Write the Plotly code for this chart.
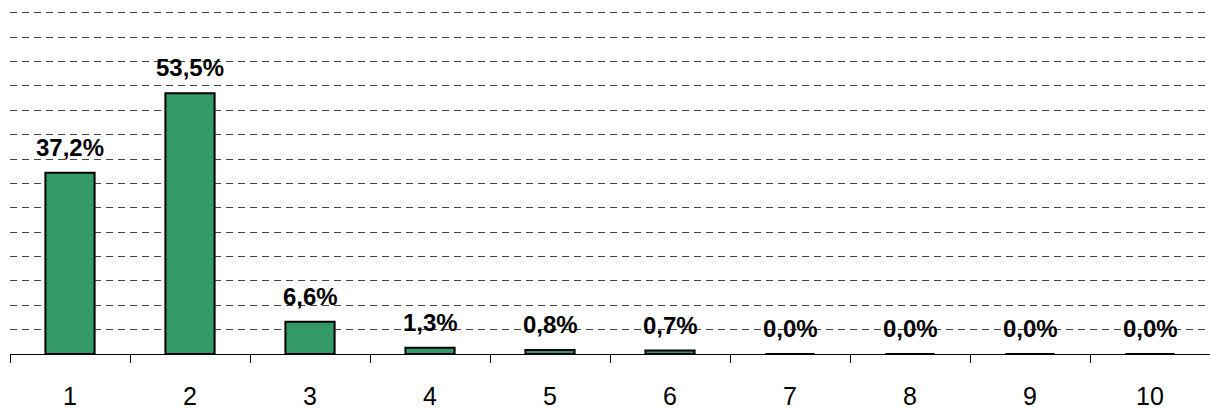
import plotly.graph_objects as go

categories = ["1", "2", "3", "4", "5", "6", "7", "8", "9", "10"]
values = [37.2, 53.5, 6.6, 1.3, 0.8, 0.7, 0.0, 0.0, 0.0, 0.0]
labels = [f"{v:.1f}".replace(".", ",") + "%" for v in values]

FONT = "Arial, Liberation Sans, sans-serif"

fig = go.Figure()
fig.add_trace(go.Bar(
    x=categories, y=values,
    marker=dict(color="#339966", line=dict(color="#000000", width=2)),
    width=0.41,
    hoverinfo="skip",
))

for i, (v, t) in enumerate(zip(values, labels)):
    fig.add_annotation(
        x=i, y=v, xref="x", yref="y", text=f"<b>{t}</b>", showarrow=False,
        yanchor="bottom", yshift=10,
        font=dict(family=FONT, size=24, color="#000000"),
    )

fig.update_layout(
    width=1210, height=409,
    margin=dict(l=10, r=0, t=3, b=55),
    paper_bgcolor="white", plot_bgcolor="white",
    showlegend=False,
    font=dict(family=FONT, color="#000000"),
    xaxis=dict(
        type="category",
        range=[-0.5, 9.5],
        tickson="boundaries",
        ticks="outside", ticklen=8, tickwidth=1, tickcolor="#000000",
        showline=True, linecolor="#000000", linewidth=1,
        showgrid=False,
        tickfont=dict(family=FONT, size=25, color="#000000"),
        ticklabelstandoff=20,
        automargin=False,
    ),
    yaxis=dict(
        range=[0, 72], tick0=0, dtick=5,
        showgrid=True, gridcolor="#444444", gridwidth=1, griddash="7px,5px",
        showticklabels=False, zeroline=False, showline=False, ticks="",
        automargin=False,
    ),
)

fig.write_html(
    "out.html",
    config={"displayModeBar": False},
    post_script="document.body.style.margin='0';document.body.style.overflow='hidden';",
)
